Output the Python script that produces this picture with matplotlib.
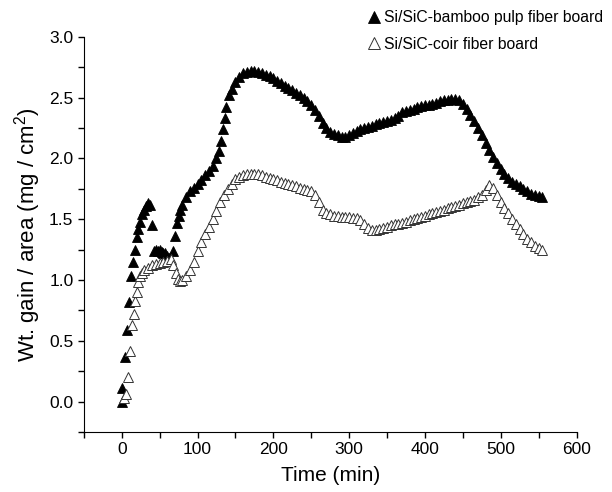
import numpy as np
import matplotlib
matplotlib.use("Agg")
import matplotlib.pyplot as plt
from matplotlib.ticker import MultipleLocator

plt.rcParams['font.family'] = ['Liberation Sans', 'DejaVu Sans']
plt.rcParams['mathtext.default'] = 'regular'

# Si/SiC-bamboo pulp fiber board (filled triangles)
bamboo_t = [0, 1, 4, 7, 9.5, 12, 14.5, 17, 19.5, 22, 24.5, 27, 29.5, 32, 34.5, 37,
            40, 42.5, 45, 47.5, 50, 52.5, 55, 57.5, 60, 62.5, 65, 67.5, 70, 72.5, 75, 77.5,
            80, 85, 90, 95, 100, 105, 110, 115, 120, 125, 128, 131, 134, 136, 138, 142,
            145, 150, 155, 160, 165, 170, 175, 180, 185, 190, 195, 200, 205, 210, 215, 220,
            225, 230, 235, 240, 245, 250, 255, 260, 265, 270, 275, 280, 285, 290, 295, 300,
            305, 310, 315, 320, 325, 330, 335, 340, 345, 350, 355, 360, 365, 370, 375, 380,
            385, 390, 395, 400, 405, 410, 415, 420, 425, 430, 435, 440, 445, 450, 455, 460,
            465, 470, 475, 480, 485, 490, 495, 500, 505, 510, 515, 520, 525, 530, 535, 540,
            545, 550, 555]
bamboo_w = [0.00, 0.11, 0.37, 0.59, 0.82, 1.03, 1.15, 1.25, 1.35, 1.42, 1.48, 1.54, 1.58, 1.61, 1.63, 1.62,
            1.45, 1.24, 1.25, 1.24, 1.25, 1.23, 1.22, 1.22, 1.20, 1.18, 1.16, 1.24, 1.36, 1.47, 1.53, 1.58,
            1.62, 1.68, 1.73, 1.76, 1.79, 1.82, 1.86, 1.90, 1.94, 2.00, 2.06, 2.14, 2.24, 2.33, 2.42, 2.52,
            2.57, 2.63, 2.67, 2.70, 2.71, 2.72, 2.72, 2.71, 2.70, 2.69, 2.68, 2.66, 2.64, 2.62, 2.60, 2.58,
            2.56, 2.54, 2.52, 2.50, 2.47, 2.44, 2.40, 2.35, 2.29, 2.25, 2.22, 2.20, 2.19, 2.18, 2.18, 2.19,
            2.21, 2.23, 2.24, 2.25, 2.26, 2.27, 2.28, 2.29, 2.30, 2.31, 2.32, 2.33, 2.35, 2.38, 2.39, 2.40,
            2.41, 2.42, 2.43, 2.44, 2.44, 2.45, 2.46, 2.47, 2.48, 2.48, 2.49, 2.49, 2.48, 2.45, 2.41, 2.36,
            2.31, 2.25, 2.19, 2.13, 2.07, 2.01, 1.96, 1.91, 1.87, 1.84, 1.81, 1.79, 1.77, 1.75, 1.73, 1.71,
            1.70, 1.69, 1.68]

# Si/SiC-coir fiber board (open triangles)
coir_t = [3, 5, 8, 11, 14, 16, 18, 20, 22, 24, 27, 30, 35, 40, 45, 50, 55, 60, 65, 68,
          71, 74, 77, 80, 85, 90, 95, 100, 105, 110, 115, 120, 125, 130, 135, 140, 145, 150,
          155, 160, 165, 170, 175, 180, 185, 190, 195, 200, 205, 210, 215, 220, 225, 230,
          235, 240, 245, 250, 255, 260, 265, 270, 275, 280, 285, 290, 295, 300, 305, 310,
          315, 320, 325, 330, 335, 340, 345, 350, 355, 360, 365, 370, 375, 380, 385, 390,
          395, 400, 405, 410, 415, 420, 425, 430, 435, 440, 445, 450, 455, 460, 465, 470,
          475, 480, 485, 490, 495, 500, 505, 510, 515, 520, 525, 530, 535, 540, 545, 550, 555]
coir_w = [0.03, 0.06, 0.20, 0.42, 0.63, 0.72, 0.83, 0.90, 0.98, 1.03, 1.06, 1.08, 1.10, 1.12, 1.13, 1.14, 1.15, 1.16, 1.17, 1.12,
          1.06, 1.01, 0.99, 1.00, 1.03, 1.08, 1.15, 1.24, 1.31, 1.38, 1.44, 1.50, 1.57, 1.64, 1.70, 1.75, 1.79, 1.83,
          1.85, 1.86, 1.87, 1.87, 1.87, 1.87, 1.86, 1.85, 1.84, 1.83, 1.82, 1.81, 1.80, 1.79, 1.78, 1.77,
          1.76, 1.75, 1.74, 1.73, 1.70, 1.64, 1.58, 1.55, 1.54, 1.53, 1.53, 1.52, 1.52, 1.52, 1.51, 1.51,
          1.49, 1.46, 1.43, 1.41, 1.41, 1.42, 1.43, 1.44, 1.45, 1.46, 1.46, 1.47, 1.48, 1.49, 1.50, 1.51,
          1.52, 1.53, 1.54, 1.55, 1.56, 1.57, 1.58, 1.59, 1.60, 1.61, 1.62, 1.63, 1.64, 1.65, 1.66, 1.68,
          1.70, 1.74, 1.78, 1.76, 1.70, 1.64, 1.59, 1.55, 1.50, 1.46, 1.42, 1.38, 1.34, 1.31, 1.28, 1.26, 1.25]

fig = plt.figure(figsize=(6.12, 4.92), dpi=100)
ax = fig.add_axes([0.137, 0.122, 0.805, 0.803])

ax.plot(bamboo_t, bamboo_w, linestyle='none', marker='^', markersize=7,
        color='black', markeredgewidth=0.6, label='Si/SiC-bamboo pulp fiber board')
ax.plot(coir_t, coir_w, linestyle='none', marker='^', markersize=7,
        markerfacecolor='white', markeredgecolor='#333333', markeredgewidth=0.7,
        label='Si/SiC-coir fiber board')

ax.set_xlim(-50, 600)
ax.set_ylim(-0.25, 3.0)
ax.spines['top'].set_visible(False)
ax.spines['right'].set_visible(False)
ax.xaxis.set_major_locator(MultipleLocator(100))
ax.xaxis.set_minor_locator(MultipleLocator(50))
ax.yaxis.set_major_locator(MultipleLocator(0.5))
ax.yaxis.set_minor_locator(MultipleLocator(0.25))
ax.set_xticks([0, 100, 200, 300, 400, 500, 600])
ax.set_yticks([0.0, 0.5, 1.0, 1.5, 2.0, 2.5, 3.0])
ax.yaxis.set_major_formatter(matplotlib.ticker.FormatStrFormatter('%.1f'))
ax.tick_params(which='major', direction='out', length=4, width=1, labelsize=12.5)
ax.tick_params(which='minor', direction='out', length=4, width=1)

ax.set_xlabel('Time (min)', fontsize=15, labelpad=6)
ax.set_ylabel('Wt. gain / area (mg / cm$^2$)', fontsize=16, labelpad=4)

fig.legend(loc='upper left', bbox_to_anchor=(0.575, 1.008), frameon=False,
           fontsize=11.3, handletextpad=0.15, labelspacing=0.75, handlelength=1.0,
           markerscale=1.2)

fig.savefig('out.png', dpi=100)
